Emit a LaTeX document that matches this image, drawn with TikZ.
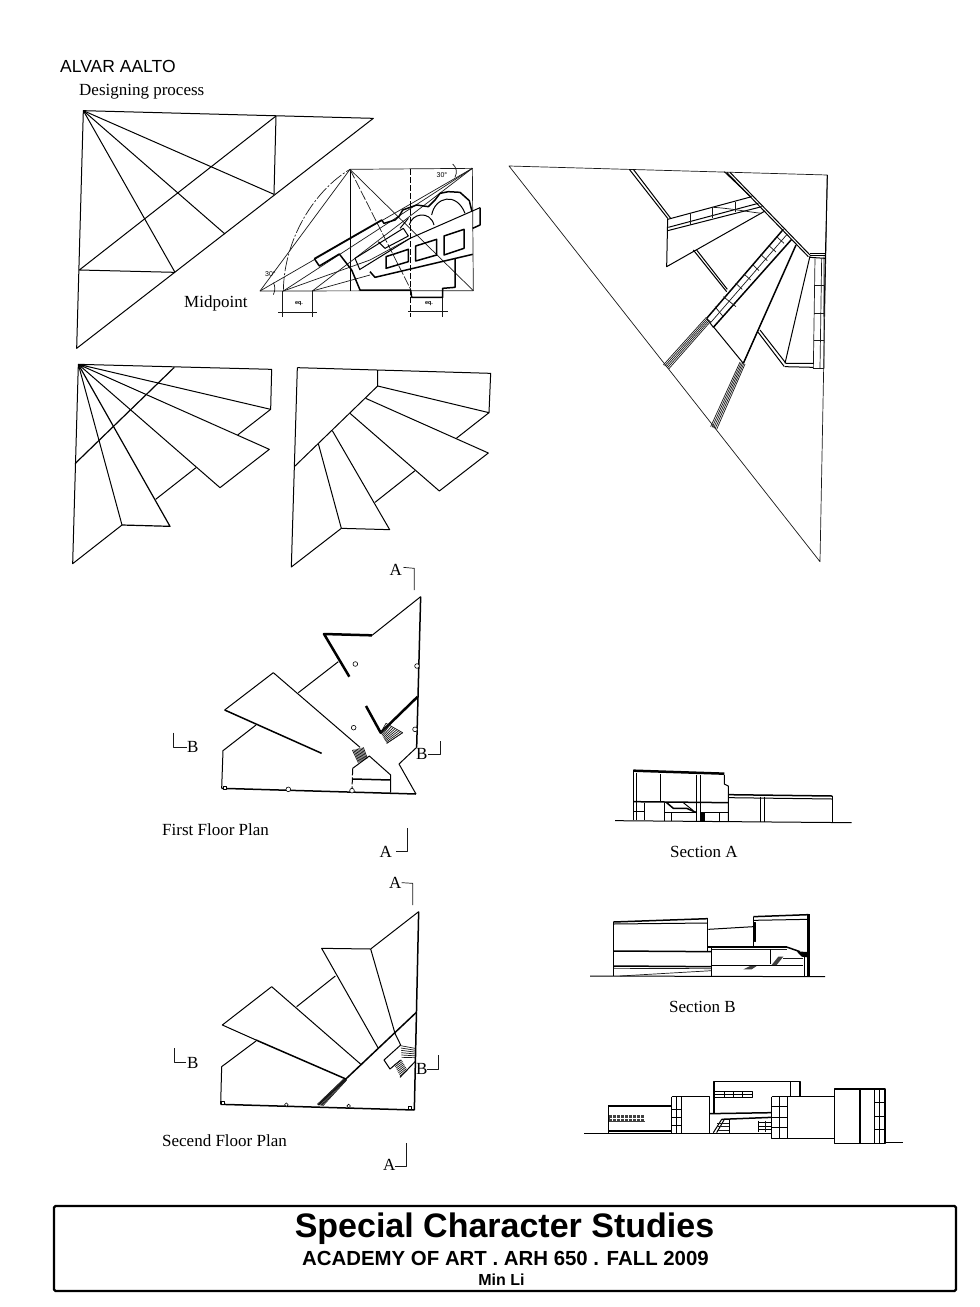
\documentclass[tikz,border=0pt]{standalone}
\usepackage{fontspec}
\setmainfont{Liberation Serif}
\newfontfamily\arialfont{Liberation Sans}
\usetikzlibrary{calc}
\tikzset{
 thinl/.style={line width=.7pt,black!90},
 medl/.style={line width=1pt,black},
 semibold/.style={line width=1.2pt,black},
 boldl/.style={line width=1.5pt,black},
 heavy/.style={line width=2.5pt,black},
 serif/.style={font=\fontsize{17}{20}\selectfont,inner sep=0pt,anchor=west,black,yshift=-.3pt},
 tiny/.style={font=\arialfont\fontsize{7}{8}\selectfont,inner sep=0pt,black},
 sanslbl/.style={font=\arialfont\fontsize{17.5}{20}\selectfont,inner sep=0pt,anchor=west,yshift=-1.5pt},
 hole/.style={line width=.6pt,fill=white,draw=black}
}
% lines joining (a)-(b) progressively to (c)-(d)
\newcommand{\myhatch}[6][thinl]{\foreach \i in {0,...,#6}{\pgfmathsetmacro{\frc}{\i/#6}\draw[#1] ($(#2)!\frc!(#3)$) -- ($(#4)!\frc!(#5)$);}}
\begin{document}
\begin{tikzpicture}[x=1pt,y=-1pt,line join=round]
\useasboundingbox (0,0) rectangle (980,1307);
\fill[white] (0,0) rectangle (980,1307);

\node[sanslbl] (t1) at (60,65) {ALVAR AALTO};
\node[serif] (t2) at (79,91) {Designing process};
\node[serif] (t3) at (184,303) {Midpoint};

% Triangle study
\begin{scope}[shift={(40,40)},scale=1/3]
\draw[medl] (130,212) -- (1000,235) -- (110,925) -- cycle;
\draw[medl] (130,212) -- (702,463);
\draw[medl] (708,228) -- (702,463);
\draw[medl] (130,212) -- (555,582);
\draw[medl] (130,212) -- (405,697);
\draw[medl] (708,228) -- (118,690) -- (405,697);
\end{scope}

% Fan study
\begin{scope}[shift={(60,355)},scale=1/3]
\draw[medl] (55,28) -- (635,43) -- (632,163) -- (55,28);
\draw[medl] (55,28) -- (38,626) -- (186,510) -- (55,28);
\draw[semibold] (343,37) -- (45,326);
\draw[medl] (55,28) -- (628,283) -- (480,398) -- (55,28);
\draw[medl] (632,163) -- (533,240);
\draw[semibold] (55,28) -- (330,514) -- (186,510);
\draw[medl] (408,338) -- (287,433);
\end{scope}

% Roof study
\begin{scope}[shift={(285,355)},scale=1/3]
\draw[medl] (37,38) -- (617,55) -- (612,173) -- (278,93) -- (278,46);
\draw[medl] (37,38) -- (19,636) -- (169,520) -- (100,266);
\draw[medl] (278,93) -- (28,335);
\draw[medl] (242,130) -- (610,294) -- (463,408) -- (195,175);
\draw[medl] (612,173) -- (514,250);
\draw[medl] (142,227) -- (314,524) -- (169,520);
\draw[medl] (390,347) -- (270,442);
\end{scope}

% Aalto sketch
\begin{scope}[shift={(260,160)},scale=1/3]
\draw[thinl] (270,28) -- (637,25) -- (640,392) -- (0,393) -- cycle;
\draw[medl] (270,28) -- (270,392);
\draw[thinl] (0,393) -- (637,25);
\draw[thinl] (70,393) -- (637,25);
\draw[thinl] (157,393) -- (637,25);
\draw[thinl] (70,393) -- (330,300) -- (450,235);
\draw[thinl] (157,393) -- (330,345);
\draw[thinl] (270,28) -- (640,392);
\draw[thinl,dash pattern=on 10pt off 2pt] (270,28) -- (452,388);
\draw[medl,dash pattern=on 6pt off 2pt] (452,28) -- (452,470);
\draw[thinl,dash pattern=on 14pt off 2pt on 2pt off 2pt] (70,393) .. controls (72,235) and (165,90) .. (270,28);
\draw[thinl] (68,393) -- (68,470) (157,393) -- (157,470) (55,457) -- (172,457);
\draw[thinl] (548,412) -- (548,470) (445,455) -- (565,455);
\draw[thinl] (40,368) .. controls (46,378) and (46,392) .. (40,404);
\draw[thinl] (578,12) .. controls (590,22) and (592,38) .. (585,52);
% thick building
\draw[boldl] (163,296) -- (365,180) -- (372,190) -- (405,180) -- (418,168) -- (428,150) -- (470,135) -- (505,140) -- (525,120) -- (540,100) -- (565,95) -- (600,97) -- (628,122) -- (636,155);
\draw[boldl] (163,296) -- (178,318) -- (238,282) -- (275,330) -- (300,390) -- (452,390) -- (455,412) -- (548,412) -- (548,385) -- (585,382) -- (585,295);
\draw[boldl] (660,143) -- (660,195) -- (638,205);
\draw[medl] (660,143) -- (450,235) -- (300,328);
\draw[boldl] (638,283) -- (345,352) -- (330,335);
\draw[medl] (285,295) -- (430,205) -- (445,228) -- (375,265) -- (355,245);
\draw[medl] (285,295) -- (300,330);
\draw[boldl] (378,290) -- (445,268) -- (445,305) -- (378,325) -- cycle;
\draw[boldl] (467,258) -- (530,238) -- (530,285) -- (467,303) -- cycle;
\draw[boldl] (552,228) -- (612,208) -- (612,265) -- (552,285) -- cycle;
\draw[medl] (448,195) .. controls (455,160) and (510,150) .. (522,195);
\draw[medl] (515,165) .. controls (525,110) and (590,95) .. (615,160);
\draw[medl] (420,205) -- (445,175);
\end{scope}
\node[tiny] (d1) at (270.5,274.5) {30\textdegree};
\node[tiny] (d2) at (442,175) {30\textdegree};
\node[tiny,font=\arialfont\bfseries\fontsize{5.5}{6}\selectfont] (d3) at (299,304) {eq.};
\node[tiny,font=\arialfont\bfseries\fontsize{5.5}{6}\selectfont] (d4) at (429,304) {eq.};

% Big drawing
\begin{scope}[shift={(500,150)},scale=1/3]
\draw[thinl] (27,48) -- (982,75) -- (960,1235) -- cycle;
\draw[medl] (982,75) -- (972,500);
\draw[medl] (388,58) -- (503,205) (400,58) -- (512,205);
\draw[medl] (503,205) -- (500,350) -- (795,183);
\draw[medl] (503,208) -- (755,140);
\draw[medl] (505,232) -- (775,160);
\draw[medl] (503,242) -- (785,170);
\draw[thinl] (570,190) -- (570,225) (638,170) -- (638,205) (707,155) -- (707,185);
\draw[thinl] (640,172) .. controls (690,175) and (740,185) .. (785,190);
\draw[medl] (673,65) -- (752,140) (690,67) -- (930,315);
\draw[medl] (680,67) -- (925,320);
\draw[medl] (930,315) -- (978,315) (930,310) -- (978,310);
\draw[medl] (930,322) -- (975,325);
\draw[thinl] (945,325) -- (940,655) (965,325) -- (960,655) (972,320) -- (972,655);
\draw[thinl] (945,407) -- (974,407) (943,490) -- (973,490) (942,572) -- (972,572) (940,655) -- (972,655);
\draw[medl] (930,318) -- (855,640);
\draw[medl] (855,650) -- (940,652) (858,640) -- (940,640);
\draw[medl] (773,545) -- (853,650) (780,540) -- (858,640);
\draw[boldl] (888,285) -- (730,640);
\draw[medl] (640,530) -- (730,640);
\draw[boldl] (850,238) -- (620,505);
\draw[boldl] (875,268) -- (640,532);
\draw[medl] (620,505) -- (640,532);
\draw[thinl] (862,252) -- (630,520);
\foreach \a/\b/\c/\d in {832/262/852/280,808/288/828/306,782/313/802/332,757/343/777/362,732/372/752/390,707/400/727/418,670/440/708/470,645/470/668/498}{\draw[thinl] (\a,\b) -- (\c,\d);}
\draw[medl] (580,300) -- (680,425) (590,300) -- (682,418);
\coordinate (h1) at (618,503);
\coordinate (h2) at (632,514);
\coordinate (h3) at (490,645);
\coordinate (h4) at (506,657);
\myhatch{h1}{h2}{h3}{h4}{4}
\coordinate (h5) at (720,636);
\coordinate (h6) at (735,642);
\coordinate (h7) at (632,830);
\coordinate (h8) at (650,838);
\myhatch{h5}{h6}{h7}{h8}{4}
\end{scope}

% First floor
\begin{scope}[shift={(150,560)},scale=1/3]
\draw[medl] (812,110) -- (666,226);
\draw[heavy] (666,226) -- (522,222) -- (598,350);
\draw[medl] (565,305) -- (445,398);
\draw[medl] (370,338) -- (630,562);
\draw[medl] (370,338) -- (224,450);
\draw[boldl] (224,450) -- (515,580);
\draw[medl] (318,495) -- (219,572) -- (215,685);
\draw[boldl] (215,685) -- (798,702);
\draw[medl] (798,702) -- (747,612) -- (800,562);
\draw[boldl] (812,110) -- (800,562);
\draw[heavy] (803,410) -- (692,518) -- (648,438);
\coordinate (s1) at (708,490);
\coordinate (s2) at (758,518);
\coordinate (s3) at (692,518);
\coordinate (s4) at (710,550);
\myhatch{s1}{s2}{s3}{s4}{9}
\draw[thinl] (s1) -- (s2) -- (s4);
\coordinate (s5) at (607,570);
\coordinate (s6) at (640,562);
\coordinate (s7) at (625,608);
\coordinate (s8) at (652,595);
\myhatch{s5}{s6}{s7}{s8}{9}
\draw[medl] (608,625) -- (658,588) -- (722,645) -- (722,698);
\draw[medl,dash pattern=on 7pt off 2pt] (608,625) -- (606,692);
\draw[boldl] (608,657) -- (722,660);
\foreach \x/\y in {616/312,611/503,801/318,795/508,415/688,606/692}{\draw[hole] (\x,\y) circle (7);}
\draw[hole] (219,680) rectangle (229,688);
\draw[thinl] (760,22) -- (793,25) -- (793,90);
\draw[thinl] (70,518) -- (70,562) -- (112,562);
\draw[thinl] (835,582) -- (870,582) -- (870,542);
\draw[thinl] (738,875) -- (773,875) -- (773,803);
\end{scope}
\node[serif] (a1) at (389.5,570) {A};
\node[serif] (b1) at (187,747) {B};
\node[serif] (b2) at (416,754) {B};
\node[serif] (a2) at (379.5,852) {A};
\node[serif] (p1) at (162,829) {First Floor Plan};

% Second floor
\begin{scope}[shift={(150,870)},scale=1/3]
\draw[medl] (806,125) -- (662,237) -- (515,235) -- (685,535);
\draw[medl] (662,237) -- (735,490) -- (752,525) -- (702,570) -- (720,597) -- (752,570);
\draw[boldl] (806,125) -- (793,720);
\draw[boldl] (793,720) -- (212,703);
\draw[medl] (212,703) -- (215,590) -- (318,513);
\draw[boldl] (798,428) -- (505,705);
\draw[medl] (556,318) -- (440,410);
\draw[medl] (365,350) -- (635,585);
\draw[medl] (365,350) -- (217,465) -- (318,510);
\draw[boldl] (318,510) -- (590,628);
\coordinate (k1) at (580,628);
\coordinate (k2) at (590,630);
\coordinate (k3) at (502,703);
\coordinate (k4) at (518,708);
\myhatch{k1}{k2}{k3}{k4}{5}
\coordinate (k5) at (752,527);
\coordinate (k6) at (795,535);
\coordinate (k7) at (755,562);
\coordinate (k8) at (795,563);
\myhatch{k5}{k7}{k6}{k8}{5}
\coordinate (k9) at (733,585);
\coordinate (k10) at (755,570);
\coordinate (k11) at (750,618);
\coordinate (k12) at (772,600);
\myhatch{k9}{k11}{k10}{k12}{7}
\draw[medl] (750,622) -- (795,575);
\foreach \x/\y in {409/704,596/708}{\draw[hole] (\x,\y) circle (5.5);}
\draw[hole] (215,695) rectangle (224,703);
\draw[hole] (775,709) rectangle (785,717);
\draw[thinl] (755,38) -- (788,40) -- (788,105);
\draw[thinl] (72,535) -- (72,576) -- (108,576);
\draw[thinl] (830,598) -- (864,598) -- (864,556);
\draw[thinl] (735,888) -- (768,888) -- (768,818);
\end{scope}
\node[serif] (a3) at (389,883) {A};
\node[serif] (b3) at (187,1063) {B};
\node[serif] (b4) at (416,1069) {B};
\node[serif] (a4) at (383,1165) {A};
\node[serif] (p2) at (162,1140) {Secend Floor Plan};

% Section A
\begin{scope}[shift={(580,760)},scale=1/3]
\draw[medl] (105,182) -- (815,188);
\draw[heavy] (160,32) -- (433,41);
\draw[medl] (160,30) -- (160,180) (168,40) -- (168,180);
\draw[medl] (240,42) -- (240,125) (350,45) -- (350,182) (362,45) -- (362,182);
\draw[medl] (433,45) -- (433,72) -- (445,78) -- (445,184);
\draw[boldl] (162,125) -- (445,128);
\draw[medl] (162,155) -- (192,155) (192,128) -- (192,180) (254,128) -- (254,182) (275,160) -- (275,182) (255,158) -- (350,158) (362,158) -- (445,158) (418,160) -- (418,184);
\draw[boldl] (260,128) -- (280,145) -- (320,145) -- (350,158);
\draw[medl] (310,128) -- (340,152);
\fill[black] (360,160) rectangle (375,183);
\draw[boldl] (445,104) -- (757,108);
\draw[medl] (447,113) -- (757,117);
\draw[medl] (540,110) -- (540,185) (552,110) -- (552,186);
\draw[boldl] (757,108) -- (757,187);
\end{scope}
\node[serif] (s1t) at (670,852) {Section A};

% Section B
\begin{scope}[shift={(580,760)},scale=1/3]
\draw[medl] (30,648) -- (735,650);
\draw[boldl] (100,486) -- (383,476);
\draw[medl] (100,492) -- (383,489);
\draw[medl] (100,485) -- (100,648) (383,475) -- (383,572);
\draw[boldl] (100,573) -- (395,575);
\draw[boldl] (100,618) -- (395,620);
\draw[thinl] (100,625) -- (395,626) (120,648) -- (395,632);
\draw[medl] (395,560) -- (395,650);
\draw[medl] (385,508) -- (520,500);
\draw[boldl] (385,561) -- (620,561);
\draw[thinl] (395,569) -- (620,569);
\draw[boldl] (620,561) -- (660,575);
\draw[boldl] (520,470) -- (685,464);
\draw[medl] (520,481) -- (685,478);
\draw[medl] (520,470) -- (520,560);
\draw[medl] (523,488) rectangle (527,545);
\draw[heavy] (685,463) -- (685,650);
\draw[medl] (672,590) -- (672,650);
\draw[medl] (570,568) -- (570,612);
\draw[boldl] (395,617) -- (670,617);
\fill[black!75] (575,615) -- (595,590) -- (610,590) -- (590,615) -- cycle;
\draw[thinl] (610,595) -- (670,595);
\fill[black!75] (490,628) -- (510,618) -- (530,618) -- (515,628) -- cycle;
\fill[black] (650,574) -- (682,576) -- (682,592) -- (665,590) -- cycle;
\end{scope}
\node[serif] (s2t) at (669,1007) {Section B};

% Elevation
\begin{scope}[shift={(580,1060)},scale=1/3]
\draw[medl] (12,219) -- (575,219) (915,248) -- (968,248);
\draw[boldl] (85,138) -- (275,138);
\draw[medl] (85,138) -- (85,218);
\draw[medl] (88,210) -- (275,210) (88,214) -- (275,214);
\fill[black!75] (88,165) rectangle (195,185);
\foreach \x in {98,110,...,194}{\draw[line width=.6pt,white] (\x,166) -- (\x,184);}
\draw[line width=.5pt,white] (89,175) -- (194,175);
\draw[boldl] (275,110) -- (388,110) -- (388,219);
\draw[boldl] (275,110) -- (275,219);
\draw[boldl] (305,110) -- (305,219);
\draw[medl] (290,110) -- (290,219) (275,148) -- (305,148) (275,173) -- (305,173) (275,195) -- (305,195);
\draw[boldl] (402,160) -- (402,65) -- (660,65) -- (660,108);
\draw[medl] (630,65) -- (630,108);
\draw[boldl] (404,95) rectangle (518,113);
\foreach \x in {432,460,488}{\draw[medl] (\x,95) -- (\x,113);}
\draw[medl] (404,104) -- (518,104);
\draw[boldl] (388,161) -- (575,158);
\draw[boldl] (575,110) -- (762,110);
\draw[boldl] (575,110) -- (575,235) -- (762,235);
\draw[boldl] (622,110) -- (622,235);
\draw[medl] (598,110) -- (598,235) (575,140) -- (622,140) (575,172) -- (622,172) (575,203) -- (622,203);
\draw[boldl] (763,87) rectangle (915,250);
\draw[boldl] (840,87) -- (840,250);
\draw[medl] (882,87) -- (882,250) (898,87) -- (898,250) (882,128) -- (915,128) (882,168) -- (915,168) (882,208) -- (915,208);
\draw[boldl] (425,178) -- (575,172);
\draw[medl] (425,178) -- (400,218);
\draw[medl] (447,180) -- (447,218);
\draw[medl] (432,180) -- (410,218);
\foreach \y in {190,200,210}{\draw[thinl] (412,\y) -- (447,\y);}
\draw[medl] (535,182) -- (535,216);
\foreach \y in {188,198,208}{\draw[medl] (535,\y) -- (575,\y);}
\draw[thinl] (555,182) -- (555,216);
\end{scope}

% Title block
\draw[line width=2.4pt,rounded corners=1.5pt] (54,1206) rectangle (956,1291);
\node[font=\arialfont\bfseries\fontsize{34}{36}\selectfont,inner sep=0pt] (tb1) at (504.5,1229) {Special Character Studies};
\node[font=\arialfont\bfseries\fontsize{20.4}{24}\selectfont,inner sep=0pt] (tb2) at (505.5,1258) {ACADEMY OF ART . ARH 650 . FALL 2009};
\node[font=\arialfont\bfseries\fontsize{16}{18}\selectfont,inner sep=0pt] (tb3) at (501.5,1280) {Min Li};
\end{tikzpicture}
\end{document}
